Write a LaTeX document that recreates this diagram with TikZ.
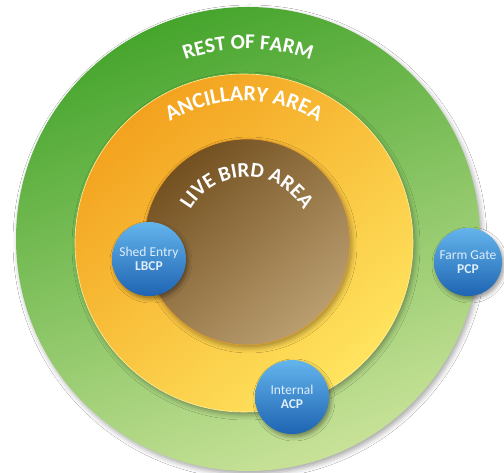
\documentclass[tikz,border=0pt]{standalone}
\usepackage{fontspec}
\setmainfont{Carlito}
\usetikzlibrary{decorations.text,shadows.blur}
\definecolor{gtop}{RGB}{70,165,45}
\definecolor{gbot}{RGB}{200,226,152}
\definecolor{otop}{RGB}{243,162,30}
\definecolor{obot}{RGB}{255,228,95}
\definecolor{btop}{RGB}{115,80,32}
\definecolor{bbot}{RGB}{186,158,112}
\definecolor{bltop}{RGB}{100,180,236}
\definecolor{blbot}{RGB}{30,100,178}
\definecolor{bltext}{RGB}{222,238,250}
\newcommand\arcfont{\fontsize{21}{24}\selectfont\bfseries}
\newcommand\ancfont{\fontsize{22}{24}\selectfont\bfseries}
\newcommand\lbfont{\fontsize{21}{24}\selectfont\bfseries}
\tikzset{
  zone/.style={circle, inner sep=0pt, blur shadow={shadow xshift=2pt, shadow yshift=-3pt, shadow blur radius=5pt, shadow opacity=35}},
  cp/.style={circle, inner sep=0pt, minimum size=#1, top color=bltop, bottom color=blbot,
    text=bltext, align=center,
    font=\fontsize{13.5}{15}\selectfont,
    blur shadow={shadow xshift=2pt, shadow yshift=-3pt, shadow blur radius=4pt, shadow opacity=40}},
  arclabel/.style={decorate, decoration={text along path, text align=center, text color=white, text={#1}}}
}
\begin{document}
\begin{tikzpicture}[x=1pt,y=1pt]
\useasboundingbox (0,0) rectangle (504,473);
\fill[white] (0,0) rectangle (504,473);
% zones
\node[zone, minimum size=464pt, top color=gtop, bottom color=gbot, shading angle=20] (farm) at (248,234) {};
\node[zone, minimum size=338pt, top color=otop, bottom color=obot, shading angle=40, draw=obot!60!white, line width=0.6pt] (ancillary) at (244,230) {};
\node[zone, minimum size=206pt, top color=btop, bottom color=bbot, shading angle=40, draw=otop!80!brown, line width=0.6pt] (live) at (247,231) {};
% curved labels
\path[arclabel={|\arcfont|REST OF FARM}] ([shift={(125:190)}]farm.center) arc[start angle=125, end angle=55, radius=190];
\path[arclabel={|\ancfont|ANCILLARY AREA}] ([shift={(145:142)}]ancillary.center) arc[start angle=145, end angle=35, radius=142];
\path[arclabel={|\lbfont|LIVE BIRD AREA}] ([shift={(170:65)}]live.center) arc[start angle=170, end angle=10, radius=65];
% control points
\node[cp=74pt] (lbcp) at (149,214) {Shed Entry\\[-1pt]\textbf{LBCP}};
\node[cp=68pt] (pcp) at (468,211) {Farm Gate\\[-1pt]\textbf{PCP}};
\node[cp=74pt] (acp) at (292,76) {Internal\\[-1pt]\textbf{ACP}};
\end{tikzpicture}
\end{document}
